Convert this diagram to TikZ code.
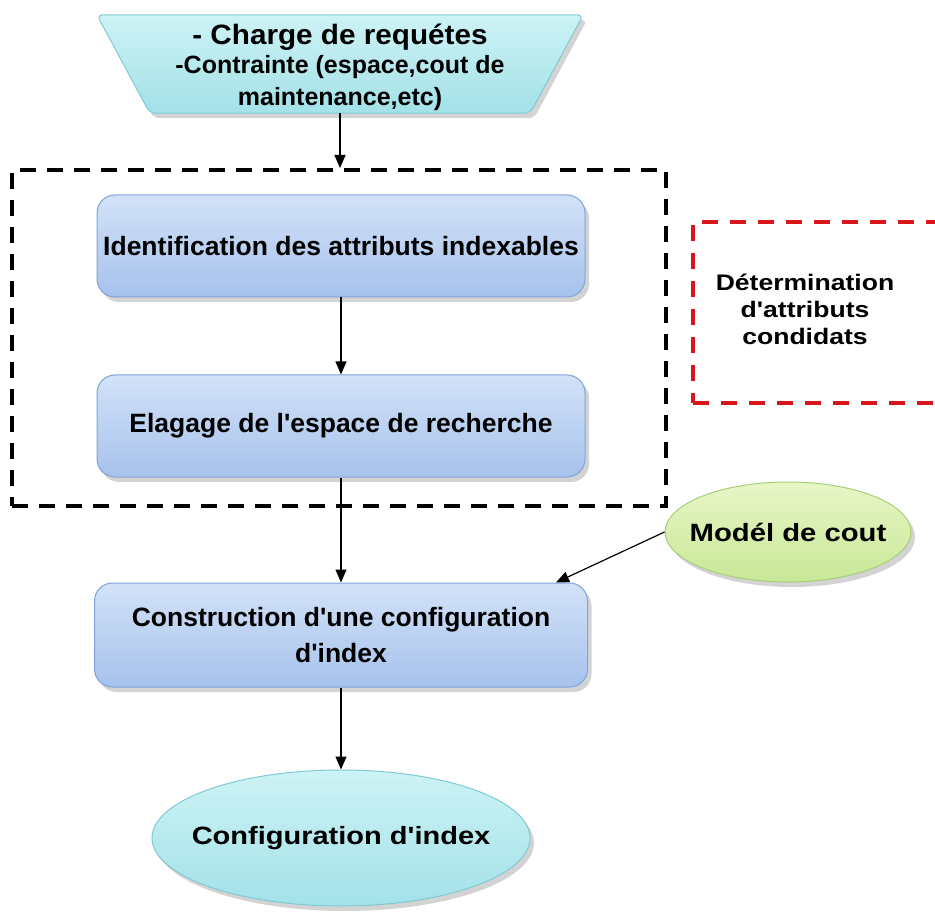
\documentclass[tikz,border=0pt]{standalone}
\usepackage{fontspec}
\setmainfont{Liberation Sans}
\usetikzlibrary{shapes.geometric,shadows,arrows.meta}

\definecolor{cyanTop}{HTML}{CDF3F5}
\definecolor{cyanBot}{HTML}{A3E1E8}
\definecolor{cyanLine}{HTML}{7FCAD3}
\definecolor{blueTop}{HTML}{D2E2F8}
\definecolor{blueBot}{HTML}{A6C2EC}
\definecolor{blueLine}{HTML}{7FA4DA}
\definecolor{greenTop}{HTML}{E8F6C6}
\definecolor{greenBot}{HTML}{C8E797}
\definecolor{greenLine}{HTML}{A6CF78}
\definecolor{groupRed}{HTML}{D9141B}

% straight apostrophe
\newcommand{\ap}{\textquotesingle}

\pgfdeclarelayer{bg}
\pgfsetlayers{bg,main}

\begin{document}
\begin{tikzpicture}[x=1pt,y=-1pt,
  shade/.style={drop shadow={opacity=0.35,shadow xshift=4pt,shadow yshift=-5pt}},
  inputshape/.style={rounded corners=6pt, draw=cyanLine, line width=1pt,
    top color=cyanTop, bottom color=cyanBot, shade},
  labeltext/.style={align=center, inner sep=0pt, font=\fontsize{25}{32}\selectfont\bfseries},
  stepbox/.style={rectangle, rounded corners=18pt, minimum width=488pt,
    minimum height=102pt, draw=blueLine, line width=1pt,
    top color=blueTop, bottom color=blueBot, shade, align=center,
    font=\fontsize{26.5}{36}\selectfont\bfseries},
  endbox/.style={ellipse, minimum width=378pt, minimum height=136pt, inner sep=0pt,
    draw=cyanLine, line width=1pt, top color=cyanTop, bottom color=cyanBot, shade,
    font=\fontsize{25}{30}\selectfont\bfseries},
  costbox/.style={ellipse, minimum width=246pt, minimum height=100pt, inner sep=0pt,
    draw=greenLine, line width=1pt, top color=greenTop, bottom color=greenBot, shade,
    font=\fontsize{25}{30}\selectfont\bfseries},
  groupbox/.style={rectangle, draw=black, line width=4pt, dash pattern=on 16pt off 11pt},
  candbox/.style={rectangle, draw=groupRed, line width=4pt, dash pattern=on 16pt off 12pt},
  flow/.style={-{Triangle[length=13pt,width=11pt]}, line width=1.2pt, black}
]
\useasboundingbox (0,0) rectangle (935,917);

% dashed frames
\node[groupbox, minimum width=654pt, minimum height=336pt] (grp) at (339,338) {};
\node[candbox, minimum width=244pt, minimum height=181pt] (cand) at (815,312.5) {};
\node[labeltext, font=\fontsize{22.5}{27}\selectfont\bfseries] (candtxt) at (805,309)
  {\scalebox{1.18}[1]{Détermination}\\ \scalebox{1.18}[1]{d\ap attributs}\\ \scalebox{1.18}[1]{condidats}};

% input: inverted trapezoid drawn on the frame of node (src)
\node[minimum width=486pt, minimum height=98pt, inner sep=0pt] (src) at (340,64) {};
\begin{pgfonlayer}{bg}
  \path[inputshape] (src.north west) -- (src.north east)
    -- ([xshift=-53pt]src.south east) -- ([xshift=53pt]src.south west) -- cycle;
\end{pgfonlayer}
\node[labeltext] (srctxt) at (340,67.5)
  {{\fontsize{28}{30}\selectfont\scalebox{1.06}[1]{- Charge de requétes}}\\[-3pt]
   -Contrainte (espace,cout de\\ maintenance,etc)};

% processing steps
\node[stepbox] (ident) at (341,246) {Identification des attributs indexables};
\node[stepbox] (elag) at (341,426) {Elagage de l\ap espace de recherche};
\node[stepbox, minimum width=493pt, minimum height=104pt] (constr) at (341,635)
  {Construction d\ap une configuration\\ d\ap index};

% cost model and result
\node[costbox] (cost) at (788,532) {\makebox[0pt]{\scalebox{1.17}[1]{Modél de cout}}};
\node[endbox] (res) at (341,838) {\makebox[0pt]{\scalebox{1.16}[1]{Configuration d\ap index}}};

% connectors
\draw[flow] (src.south) -- (src.south |- grp.north);
\draw[flow] (ident) -- (elag);
\draw[flow] (elag) -- (constr);
\draw[flow] (constr) -- (res);
\draw[flow] (cost.west) -- ([xshift=-32pt]constr.north east);
\end{tikzpicture}
\end{document}
